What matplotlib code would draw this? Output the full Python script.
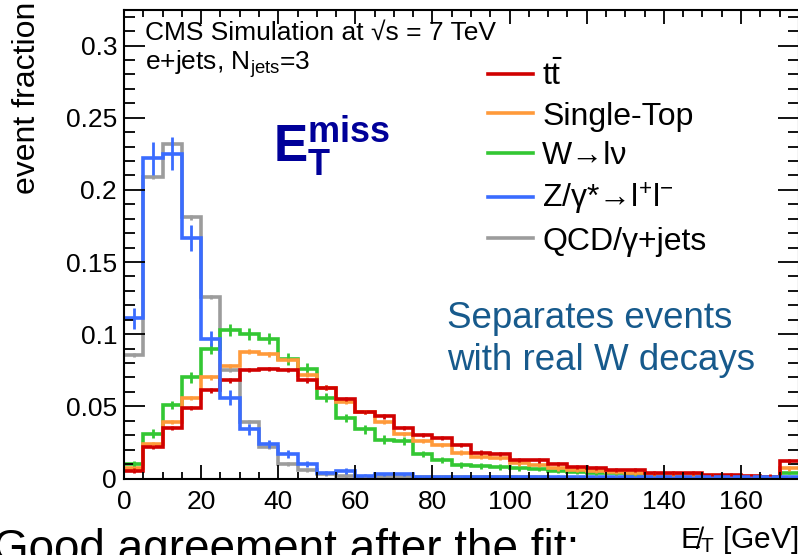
import numpy as np
import matplotlib
matplotlib.use('Agg')
import matplotlib.pyplot as plt
from matplotlib.lines import Line2D
from matplotlib.ticker import MultipleLocator, FuncFormatter

plt.rcParams['font.family'] = ['Liberation Sans', 'DejaVu Sans']
plt.rcParams['mathtext.fontset'] = 'custom'
plt.rcParams['mathtext.rm'] = 'Liberation Sans'
plt.rcParams['mathtext.it'] = 'Liberation Sans:italic'
plt.rcParams['mathtext.bf'] = 'Liberation Sans:bold'

W, H = 798, 555

# MET bins of 5 GeV, last bin (170-175) is the overflow
bin_edges = np.arange(0, 180, 5)

ttbar = [0.0055, 0.022, 0.035, 0.049, 0.061, 0.068, 0.075, 0.076, 0.075, 0.068,
         0.063, 0.055, 0.046, 0.043, 0.035, 0.030, 0.028, 0.023, 0.018, 0.017,
         0.013, 0.0125, 0.010, 0.0078, 0.0072, 0.006, 0.0058, 0.004, 0.0037, 0.004,
         0.0025, 0.0022, 0.0014, 0.0013, 0.012]
single_top = [0.007, 0.024, 0.039, 0.056, 0.070, 0.078, 0.088, 0.086, 0.082, 0.072,
              0.063, 0.053, 0.046, 0.039, 0.031, 0.026, 0.023, 0.018, 0.015, 0.014,
              0.0105, 0.0095, 0.007, 0.006, 0.005, 0.0045, 0.004, 0.003, 0.0028, 0.0025,
              0.002, 0.0018, 0.0012, 0.001, 0.007]
wjets = [0.010, 0.031, 0.051, 0.070, 0.090, 0.103, 0.100, 0.097, 0.083, 0.076,
         0.056, 0.042, 0.034, 0.027, 0.026, 0.017, 0.013, 0.0095, 0.0085, 0.008,
         0.007, 0.0065, 0.005, 0.0045, 0.004, 0.0035, 0.003, 0.0025, 0.0022, 0.002,
         0.0018, 0.0015, 0.001, 0.001, 0.004]
zjets = [0.111, 0.222, 0.225, 0.167, 0.097, 0.056, 0.034, 0.024, 0.017, 0.010,
         0.004, 0.005, 0.002, 0.003, 0.003, 0.0012, 0.0012, 0.0012, 0.0012, 0.0012,
         0.0012, 0.0012, 0.0012, 0.001, 0.001, 0.001, 0.001, 0.001, 0.001, 0.001,
         0.001, 0.001, 0.001, 0.001, 0.001]
qcd = [0.0856, 0.209, 0.232, 0.181, 0.126, 0.075, 0.039, 0.022, 0.010, 0.006,
       0.003, 0.002, 0.001, 0.001, 0.0008, 0.0008, 0.0008, 0.0008, 0.0008, 0.001,
       0.001, 0.001, 0.0005, 0.0005, 0.0005, 0.0005, 0.0005, 0.0005, 0.0005, 0.0005,
       0.0005, 0.0005, 0.0005, 0.0005, 0.0005]

zjets_err = [0.0075, 0.0115, 0.0115, 0.009, 0.005, 0.005, 0.004, 0.003, 0.003, 0.002,
             0.0015, 0.002, 0.001, 0.001, 0.001, 0.001, 0.001, 0.001, 0.001, 0.001,
             0.001, 0.001, 0.001, 0.001, 0.001, 0.001, 0.001, 0.001, 0.001, 0.001,
             0.001, 0.001, 0.001, 0.001, 0.001]
wjets_err = [0.002, 0.003, 0.003, 0.004, 0.004, 0.004, 0.004, 0.004, 0.004, 0.004,
             0.003, 0.003, 0.003, 0.003, 0.003, 0.002, 0.002, 0.002, 0.002, 0.002,
             0.002, 0.0015, 0.0015, 0.0015, 0.0015, 0.001, 0.001, 0.001, 0.001, 0.001,
             0.001, 0.001, 0.001, 0.001, 0.001]
small_err = 0.0015

labels = [r'$\mathrm{t\bar{t}}$', 'Single-Top', 'W→lν', 'Z/γ*→l$^{+}$l$^{-}$', 'QCD/γ+jets']
colors = ['#d00000', '#ff9a3a', '#33c733', '#3a6cff', '#9c9c9c']

centers = (bin_edges[:-1] + bin_edges[1:]) / 2

fig = plt.figure(figsize=(W / 100, H / 100), dpi=100)
ax = fig.add_axes([124 / W, (H - 478.5) / H, (798.8 - 124) / W, (478.5 - 10) / H])

series = [(qcd, colors[4], small_err), (wjets, colors[2], wjets_err),
          (single_top, colors[1], small_err), (ttbar, colors[0], small_err),
          (zjets, colors[3], zjets_err)]
for vals, c, err in series:
    ax.stairs(vals, bin_edges, color=c, lw=2.6, baseline=None)
    ax.errorbar(centers, vals, yerr=err, fmt='none', ecolor=c, elinewidth=2, capsize=0)

ax.set_xlim(0, 175)
ax.set_ylim(0, 0.3247)
ax.xaxis.set_major_locator(MultipleLocator(20))
ax.xaxis.set_minor_locator(MultipleLocator(5))
ax.yaxis.set_major_locator(MultipleLocator(0.05))
ax.yaxis.set_minor_locator(MultipleLocator(0.01))
ax.yaxis.set_major_formatter(FuncFormatter(lambda v, p: f'{v:g}'))
ax.tick_params(axis='both', which='both', direction='in', top=True, right=True,
               labelsize=19, width=1.3)
ax.tick_params(axis='x', which='major', length=10, pad=8)
ax.tick_params(axis='x', which='minor', length=5)
ax.tick_params(axis='y', which='major', length=15, pad=5)
ax.tick_params(axis='y', which='minor', length=8)
for t in ax.yaxis.get_major_ticks() + ax.yaxis.get_minor_ticks():
    t.tick2line.set_color('#888888')
for s in ax.spines.values():
    s.set_linewidth(1.5)

fig.text(27 / W, 1 - 2 / H, 'event fraction', rotation=90, fontsize=23,
         ha='center', va='top')

fig.text(145 / W, 1 - 33 / H, 'CMS Simulation at √s = 7 TeV',
         fontsize=19, ha='left', va='center')
fig.text(145 / W, 1 - 64 / H, r'e+jets, N$_{\mathrm{jets}}$=3',
         fontsize=19, ha='left', va='center')

fig.text(273 / W, 1 - 162 / H, r'$\mathbf{E_{T}^{miss}}$', color='#000099',
         fontsize=37, ha='left', va='baseline')

fig.text(447 / W, 1 - 319 / H, 'Separates events', color='#175a8c',
         fontsize=26.5, ha='left', va='center')
fig.text(447 / W, 1 - 360 / H, 'with real W decays', color='#175a8c',
         fontsize=26.5, ha='left', va='center')

handles = [Line2D([], [], color=c, lw=2.6) for c in colors]
fig.legend(handles, labels, loc='upper left', bbox_to_anchor=(488 / W, 1 - 61 / H),
           frameon=False, fontsize=23, handlelength=1.4, handletextpad=0.3,
           labelspacing=0.3, borderpad=0, borderaxespad=0)

fig.text(798 / W, 1 - 548 / H, 'E\u0338$_{\\mathrm{T}}$ [GeV]', fontsize=21.5,
         ha='right', va='baseline')

fig.text(579 / W, 1 - 562 / H, 'Good agreement after the fit:', fontsize=33,
         ha='right', va='baseline')

fig.savefig('out.png', dpi=100)
